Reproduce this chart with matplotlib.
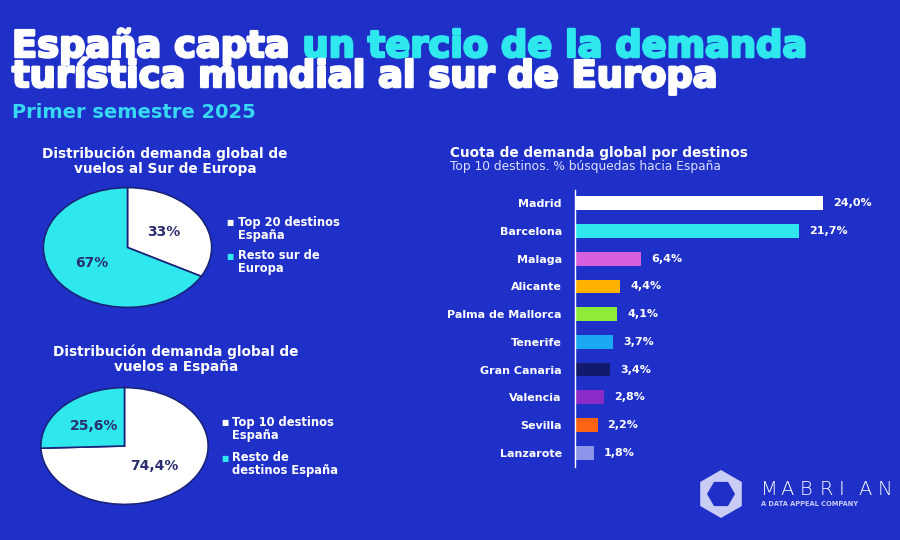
import matplotlib.pyplot as plt
import matplotlib.patheffects as pe
from matplotlib.patches import RegularPolygon

# data
destinos = ["Madrid", "Barcelona", "Malaga", "Alicante", "Palma de Mallorca",
            "Tenerife", "Gran Canaria", "Valencia", "Sevilla", "Lanzarote"]
cuota = [24.0, 21.7, 6.4, 4.4, 4.1, 3.7, 3.4, 2.8, 2.2, 1.8]
bar_colors = ["#FFFFFF", "#2EE8EE", "#D760DE", "#FFB300", "#8EEB3A",
              "#1AA8F2", "#121A6E", "#8A2BC8", "#FF6414", "#8D95EA"]

sur_labels = ["Top 20 destinos\nEspaña", "Resto sur de\nEuropa"]
sur_values = [33, 67]
esp_labels = ["Top 10 destinos\nEspaña", "Resto de\ndestinos España"]
esp_values = [74.4, 25.6]

BG = "#1F30C9"
CYAN = "#2EE8EE"
DARK = "#2A2E6E"
W, H = 900, 540


def fx(x):
    return x / W


def fy(y):
    return 1 - y / H


plt.rcParams['font.family'] = ['DejaVu Sans']
fig = plt.figure(figsize=(9, 5.4), dpi=100, facecolor=BG)

# overlay axes in pixel coords for texts and logo
axl = fig.add_axes([0, 0, 1, 1], zorder=5)
axl.set_xlim(0, W)
axl.set_ylim(H, 0)
axl.axis("off")

# headline
heavy = dict(fontsize=26.5, fontweight="bold")
t1 = axl.text(12, 57, "España capta ", color="white", va="baseline",
              path_effects=[pe.withStroke(linewidth=1.8, foreground="white")], **heavy)
axl.annotate("un tercio de la demanda", xy=(1, 0), xycoords=t1,
             color=CYAN, va="bottom", ha="left", annotation_clip=False,
             path_effects=[pe.withStroke(linewidth=1.8, foreground=CYAN)], **heavy)
axl.text(12, 87, "turística mundial al sur de Europa", color="white",
         va="baseline",
         path_effects=[pe.withStroke(linewidth=1.8, foreground="white")], **heavy)
axl.text(12, 118, "Primer semestre 2025", color="#36D8F2", fontsize=14,
         fontweight="semibold", va="baseline")


def draw_pie(cx, cy, rx, ry, values, colors, start, ccw, fmt):
    ax = fig.add_axes([fx(cx - rx), fy(cy + ry), 2 * rx / W, 2 * ry / H])
    ax.pie(values, colors=colors, startangle=start, counterclock=ccw,
           autopct=fmt, pctdistance=0.5,
           wedgeprops=dict(edgecolor="#1A237A", linewidth=1.2),
           textprops=dict(color=DARK, fontsize=10, fontweight="bold"))
    ax.set_aspect("auto")
    ax.set_xlim(-1.01, 1.01)
    ax.set_ylim(-1.01, 1.01)
    ax.set_facecolor(BG)
    return ax


def title_lines(x, y, lines):
    for i, ln in enumerate(lines):
        axl.text(x, y + i * 15, ln, color="white", fontsize=9.8,
                 fontweight="bold", ha="center", va="baseline")


# pie 1
title_lines(165, 158, ["Distribución demanda global de", "vuelos al Sur de Europa"])
draw_pie(127.5, 247.5, 85, 60.5, sur_values, ["white", CYAN], 90, False,
         lambda p: f"{p:.0f}%")
for lab, col, yy in zip(sur_labels, ["white", CYAN], [229, 262]):
    axl.text(230, yy - 6, "■", color=col, fontsize=5.5, ha="center", va="center")
    axl.text(238, yy, lab, color="white", fontsize=8.3, fontweight="bold",
             va="center", linespacing=1.05)

# pie 2
title_lines(176, 356, ["Distribución demanda global de", "vuelos a España"])
draw_pie(124.5, 446, 84.5, 59, esp_values, ["white", CYAN], 90 - 360 * 0.744, True,
         lambda p: f"{p:.1f}".replace(".", ",") + "%")
for lab, col, yy in zip(esp_labels, ["white", CYAN], [429, 464]):
    axl.text(225, yy - 6, "■", color=col, fontsize=5.5, ha="center", va="center")
    axl.text(232, yy, lab, color="white", fontsize=8.3, fontweight="bold",
             va="center", linespacing=1.05)

# bar chart
axl.text(450, 157, "Cuota de demanda global por destinos", color="white",
         fontsize=9.8, fontweight="bold", va="baseline")
axl.text(450, 170, "Top 10 destinos. % búsquedas hacia España",
         color="#DDE0FF", fontsize=8.8, va="baseline")

axb = fig.add_axes([fx(575), fy(466.5), 300 / W, 277 / H])
axb.set_facecolor(BG)
pos = list(range(len(destinos)))
axb.barh(pos, cuota, height=0.5, color=bar_colors)
axb.set_xlim(0, 300 / 10.33)
axb.set_ylim(9.5, -0.5)
for s in ["top", "right", "bottom"]:
    axb.spines[s].set_visible(False)
axb.spines["left"].set_color("white")
axb.spines["left"].set_linewidth(1)
axb.set_xticks([])
axb.set_yticks(pos)
axb.set_yticklabels(destinos, color="white", fontsize=8, fontweight="bold")
axb.tick_params(axis="y", length=0, pad=9.5)
for p, v in zip(pos, cuota):
    axb.annotate(f"{v:.1f}".replace(".", ",") + "%", (v, p), xytext=(7, 0),
                 textcoords="offset points", color="white", fontsize=8,
                 fontweight="bold", va="center")

# logo
axl.add_patch(RegularPolygon((721, 494), 6, radius=24, orientation=0,
                             facecolor="#C9CCF4", edgecolor="none"))
axl.add_patch(RegularPolygon((721, 494), 6, radius=14, orientation=0.5236,
                             facecolor=BG, edgecolor="none"))
for i, ch in enumerate("MABRIAN"):
    axl.text(761 + i * 19.5, 495, ch, color="white", fontsize=14,
             va="baseline", ha="left", fontweight="light")
axl.text(761, 506, "A DATA APPEAL COMPANY", color="#C9CCF4", fontsize=4.8,
         va="baseline", fontweight="bold")

fig.savefig("out.png", dpi=100, facecolor=BG)
